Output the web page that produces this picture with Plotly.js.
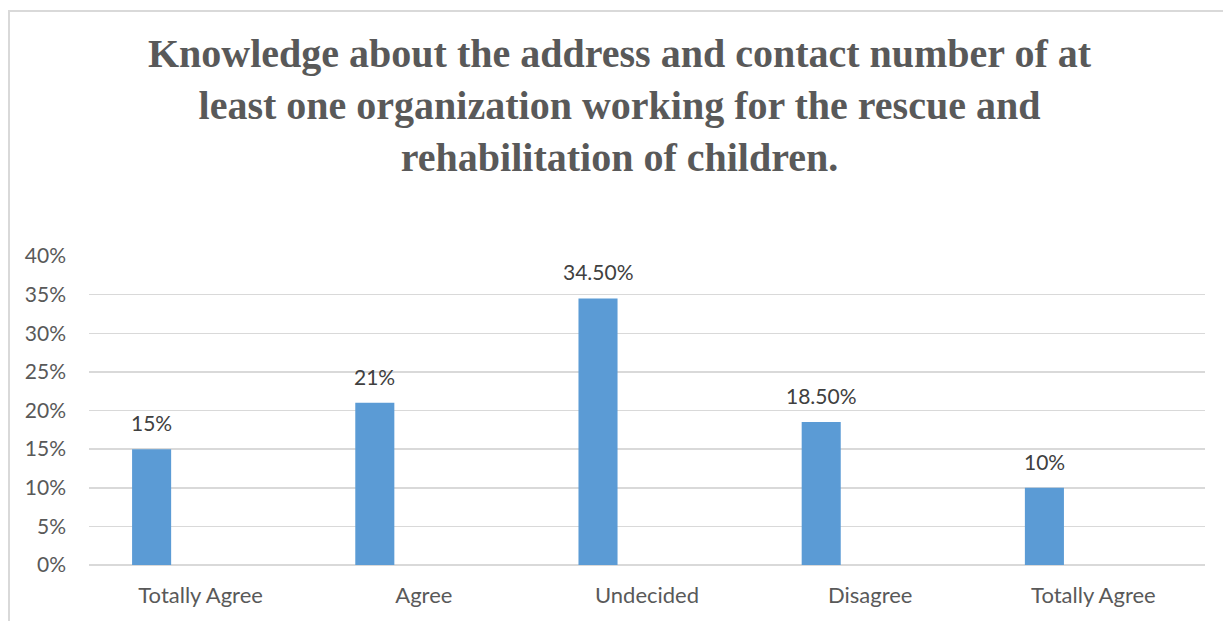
<!DOCTYPE html>
<html>
<head>
<meta charset="utf-8">
<script src="https://cdn.plot.ly/plotly-3.0.1.min.js"></script>
<style>
html,body{margin:0;padding:0;background:#fff;}
#chart{width:1223px;height:621px;}
#frame{position:absolute;left:8px;top:10px;width:1300px;height:700px;border-left:2px solid #d9d9d9;border-top:2px solid #d9d9d9;pointer-events:none;}
</style>
</head>
<body>
<div id="chart"></div>
<div id="frame"></div>
<script>
const categories = ["Totally Agree", "Agree", "Undecided", "Disagree", "Totally Agree"];
const values = [0.15, 0.21, 0.345, 0.185, 0.10];
const labels = ["15%", "21%", "34.50%", "18.50%", "10%"];
const yTickVals = [0, 0.05, 0.10, 0.15, 0.20, 0.25, 0.30, 0.35, 0.40];
const yTickText = ["0%", "5%", "10%", "15%", "20%", "25%", "30%", "35%", "40%"];
const titleText = "Knowledge about the address and contact number of at<br>least one organization working for the rescue and<br>rehabilitation of children.";

const idx = categories.map((_, i) => i);
const barOffset = -0.307;
const barWidth = 0.175;
const textColor = "#595959";
const sans = "Lato, 'Open Sans', sans-serif";

const trace = {
  type: "bar",
  x: idx,
  y: values,
  offset: barOffset,
  width: barWidth,
  marker: {color: "#5B9BD5"},
  hoverinfo: "skip"
};

const annotations = idx.map(i => ({
  x: i + barOffset + barWidth / 2,
  y: values[i],
  xref: "x", yref: "y",
  text: labels[i],
  showarrow: false,
  yanchor: "bottom",
  yshift: 12,
  font: {family: sans, size: 21, color: "#404040"}
}));

annotations.push({
  text: titleText,
  xref: "paper", yref: "paper",
  x: 0.4758, y: 1.487,
  xanchor: "center", yanchor: "middle",
  showarrow: false,
  align: "center",
  font: {family: "'Liberation Serif', 'Times New Roman', serif", size: 40, color: textColor, weight: "bold"}
});

const layout = {
  width: 1223, height: 621,
  margin: {l: 89, r: 18, t: 256, b: 56},
  paper_bgcolor: "#fff", plot_bgcolor: "#fff",
  showlegend: false,
  xaxis: {
    range: [-0.5, 4.5],
    tickvals: idx,
    ticktext: categories,
    showgrid: false, zeroline: false,
    showline: false,
    ticks: "",
    ticklabelstandoff: 15,
    tickfont: {family: sans, size: 22, color: textColor},
    fixedrange: true
  },
  yaxis: {
    range: [0, 0.4],
    tickvals: yTickVals,
    ticktext: yTickText,
    showgrid: true, gridcolor: "#d9d9d9", gridwidth: 1.5,
    zeroline: true, zerolinecolor: "#d9d9d9", zerolinewidth: 1.5,
    ticks: "",
    ticklabelstandoff: 22,
    tickfont: {family: sans, size: 21, color: textColor},
    fixedrange: true
  },
  annotations: annotations
};

Plotly.newPlot("chart", [trace], layout, {displayModeBar: false, staticPlot: true});
</script>
</body>
</html>
